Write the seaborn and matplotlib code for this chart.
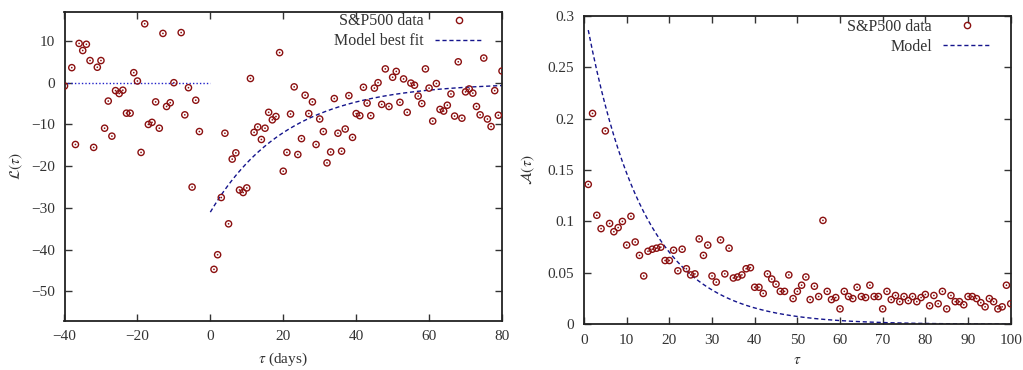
import numpy as np
import pandas as pd
import matplotlib
matplotlib.use("Agg")
import matplotlib.pyplot as plt
from matplotlib.lines import Line2D
import seaborn as sns

# ---------------- data (left panel: leverage correlation) ----------------
lev_tau = [-40, -38, -37, -36, -35, -34, -33, -32, -31, -30, -29, -28, -27, -26, -25,
           -24, -23, -22, -21, -20, -19, -18, -17, -16, -15, -14, -13, -12, -11, -10,
           -8, -7, -6, -5, -4, -3,
           1, 2, 3, 4, 5, 6, 7, 8, 9, 10, 11, 12, 13, 14, 15, 16, 17, 18, 19, 20,
           21, 22, 23, 24, 25, 26, 27, 28, 29, 30, 31, 32, 33, 34, 35, 36, 37, 38, 39, 40,
           41, 42, 43, 44, 45, 46, 47, 48, 49, 50, 51, 52, 53, 54, 55, 56, 57, 58, 59, 60,
           61, 62, 63, 64, 65, 66, 67, 68, 69, 70, 71, 72, 73, 74, 75, 76, 77, 78, 79, 80]
lev_val = [-0.8, 3.6, -14.8, 9.4, 7.7, 9.2, 5.3, -15.5, 3.7, 5.3, -10.9, -4.4, -12.8, -1.9, -2.6,
           -1.8, -7.3, -7.3, 2.4, 0.4, -16.7, 14.1, -10.0, -9.5, -4.6, -10.9, 11.8, -5.7, -4.8, 0.0,
           12.0, -7.7, -1.2, -25.0, -4.2, -11.7,
           -44.7, -41.2, -27.5, -12.1, -33.8, -18.3, -16.8, -25.7, -26.3, -25.2, 1.0, -11.9, -10.6, -13.6,
           -10.9, -7.1, -8.9, -8.1, 7.2, -21.2,
           -16.7, -7.5, -1.0, -17.2, -13.4, -3.0, -7.4, -4.6, -14.8, -8.7, -11.7, -19.2, -16.6, -3.8,
           -12.1, -16.4, -11.1, -3.1, -13.1, -7.4,
           -7.9, -1.1, -4.9, -7.9, -1.3, 0.0, -5.2, 3.3, -5.7, 1.3, 2.7, -4.7, 0.9, -7.1, -0.1, -0.6,
           -3.2, -5.0, 3.3, -1.3,
           -9.2, -0.2, -6.4, -6.8, -5.4, -2.7, -8.0, 5.0, -8.5, -2.2, -1.5, -2.5, -5.7, -7.7, 5.9, -8.7,
           -10.5, -1.9, -7.8, 2.8]

# model for the left panel: zero for tau<0, exponential fit for tau>=0
zero_tau = [-40, 0]
zero_val = [0, 0]
lev_amp = 31.0      # fitted amplitude
lev_T = 21.0        # fitted decay time (days)

# ---------------- data (right panel) ----------------
acf_tau = list(range(1, 101))
acf_val = [0.136, 0.205, 0.106, 0.093, 0.188, 0.098, 0.090, 0.094, 0.100, 0.077,
           0.105, 0.080, 0.067, 0.047, 0.071, 0.073, 0.074, 0.075, 0.062, 0.062,
           0.072, 0.052, 0.073, 0.054, 0.048, 0.049, 0.083, 0.067, 0.077, 0.047,
           0.041, 0.082, 0.049, 0.074, 0.045, 0.046, 0.048, 0.054, 0.055, 0.036,
           0.036, 0.030, 0.049, 0.044, 0.039, 0.032, 0.032, 0.048, 0.025, 0.032,
           0.038, 0.046, 0.024, 0.037, 0.027, 0.101, 0.032, 0.024, 0.026, 0.015,
           0.032, 0.027, 0.025, 0.036, 0.027, 0.026, 0.038, 0.027, 0.027, 0.015,
           0.032, 0.024, 0.028, 0.022, 0.027, 0.023, 0.027, 0.022, 0.026, 0.029,
           0.018, 0.028, 0.020, 0.032, 0.015, 0.028, 0.022, 0.022, 0.019, 0.027,
           0.027, 0.025, 0.021, 0.017, 0.025, 0.022, 0.015, 0.017, 0.038, 0.020]
acf_amp = 0.308
acf_T = 13.5

left_xticks = [-40, -20, 0, 20, 40, 60, 80]
left_yticks = [10, 0, -10, -20, -30, -40, -50]
right_xticks = [0, 10, 20, 30, 40, 50, 60, 70, 80, 90, 100]
right_yticks = [0, 0.05, 0.1, 0.15, 0.2, 0.25, 0.3]
right_yticklabels = ["0", "0.05", "0.1", "0.15", "0.2", "0.25", "0.3"]

# ---------------- style ----------------
sns.set_style("ticks")
plt.rcParams["font.family"] = ["Liberation Serif", "DejaVu Serif"]
plt.rcParams["mathtext.fontset"] = "stix"
plt.rcParams["font.size"] = 11
plt.rcParams["axes.unicode_minus"] = True

PT_COLOR = "#8b1010"
LINE_COLOR = "#14148c"
TEXT_COLOR = "#333333"

fig = plt.figure(figsize=(10.23, 3.70), dpi=100)
axL = fig.add_axes([64.5 / 1023, 1 - 320.7 / 370, (502 - 64.5) / 1023, (320.7 - 11.7) / 370])
axR = fig.add_axes([584 / 1023, 1 - 324.3 / 370, (1010.7 - 584) / 1023, (324.3 - 15.7) / 370])


def draw_points(ax, x, y):
    df = pd.DataFrame({"x": x, "y": y})
    sns.scatterplot(data=df, x="x", y="y", ax=ax, marker="o", s=20,
                    facecolor="none", edgecolor=PT_COLOR, linewidth=1.0, zorder=3)
    sns.scatterplot(data=df, x="x", y="y", ax=ax, marker="o", s=1.5,
                    color=PT_COLOR, edgecolor="none", linewidth=0, zorder=4)


# ---- left panel ----
draw_points(axL, lev_tau, lev_val)
sns.lineplot(x=zero_tau, y=zero_val, ax=axL, color="#2020c8", linewidth=1.0,
             linestyle=(0, (1, 1.5)), zorder=2)
mx = np.linspace(0, 80, 200)
sns.lineplot(x=mx, y=-lev_amp * np.exp(-mx / lev_T), ax=axL, color=LINE_COLOR,
             linewidth=1.0, linestyle=(0, (3, 2)), zorder=2)
axL.set_xlim(-40, 80)
axL.set_ylim(-57, 17)
axL.set_xticks(left_xticks)
axL.set_yticks(left_yticks)
axL.set_xlabel(r"$\tau$ (days)", color=TEXT_COLOR, labelpad=5)
axL.set_ylabel(r"$\mathcal{L}(\tau)$", color=TEXT_COLOR, labelpad=4)

# ---- right panel ----
draw_points(axR, acf_tau, acf_val)
rx = np.linspace(1, 100, 300)
sns.lineplot(x=rx, y=acf_amp * np.exp(-rx / acf_T), ax=axR, color=LINE_COLOR,
             linewidth=1.0, linestyle=(0, (3, 2)), zorder=2)
axR.set_xlim(0, 100)
axR.set_ylim(0, 0.3)
axR.set_xticks(right_xticks)
axR.set_yticks(right_yticks)
axR.set_yticklabels(right_yticklabels)
axR.set_xlabel(r"$\tau$", color=TEXT_COLOR, labelpad=5)
axR.set_ylabel(r"$\mathcal{A}(\tau)$", color=TEXT_COLOR, labelpad=8)

for ax in (axL, axR):
    for s in ax.spines.values():
        s.set_visible(True)
        s.set_linewidth(1.3)
        s.set_color("#222222")
    ax.tick_params(direction="in", top=True, right=True, length=5, width=1.0,
                   colors="#333333", labelcolor=TEXT_COLOR, labelsize=11, pad=7)


def add_legend(ax, model_label, anchor):
    handles = [
        Line2D([], [], linestyle="none", marker="o", markersize=4.5, markerfacecolor="none",
               markeredgecolor=PT_COLOR, markeredgewidth=1.0, label="S&P500 data"),
        Line2D([], [], color=LINE_COLOR, linewidth=1.0, linestyle=(0, (3, 2)), label=model_label),
    ]
    leg = ax.legend(handles=handles, loc="upper right", bbox_to_anchor=anchor, frameon=False,
                    markerfirst=False, handlelength=2.95, handletextpad=0.7, borderpad=0,
                    borderaxespad=0, labelspacing=0.25, fontsize=11.5)
    for t in leg.get_texts():
        t.set_color(TEXT_COLOR)
        t.set_ha("right")
    return leg


add_legend(axL, "Model best fit", (0.955, 0.995))
add_legend(axR, "Model", (0.952, 0.99))

fig.savefig("out.png", dpi=100)
